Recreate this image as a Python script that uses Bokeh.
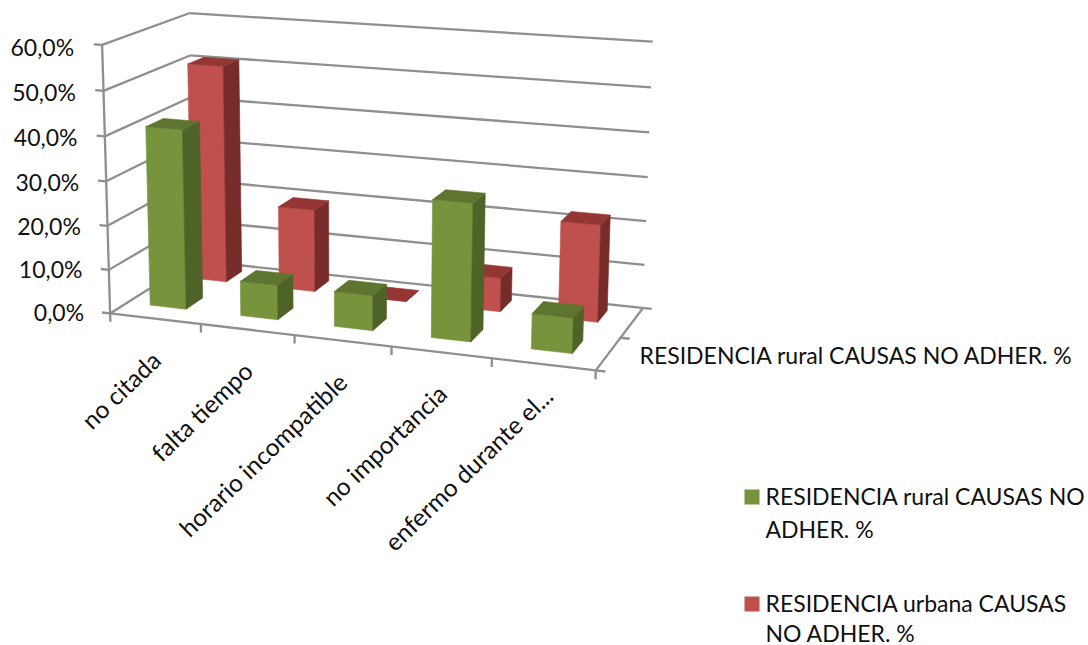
import numpy as np
from bokeh.core.properties import value
from bokeh.embed import file_html
from bokeh.models import Range1d
from bokeh.plotting import figure
from bokeh.resources import INLINE

# Chart content
categories = ["no citada", "falta tiempo", "horario incompatible", "no importancia", "enfermo durante el..."]
rural = [40.6, 7.8, 7.8, 30.1, 7.7]
urbana = [50.5, 19.1, 0.0, 7.7, 21.8]
value_ticks = [0, 10, 20, 30, 40, 50, 60]
value_labels = ["0,0%", "10,0%", "20,0%", "30,0%", "40,0%", "50,0%", "60,0%"]
series_label = "RESIDENCIA rural CAUSAS NO ADHER. %"
legend_lines = [
    ("#77933C", ["RESIDENCIA rural CAUSAS NO", "ADHER. %"]),
    ("#C0504D", ["RESIDENCIA urbana CAUSAS", "NO ADHER. %"]),
]

FONT = "Lato"
AXIS_MAX = 60.0
BAR_LIFT = 0.011  # bars stand slightly above the floor plane
GRID = "#8F8F8F"
TEXT = "#111111"

# Camera: box coordinates (along categories, depth, height; all 0..1) and where they land on the page
camera_box = [
    (0, 0, 0), (0.2, 0, 0), (0.4, 0, 0), (0.6, 0, 0), (0.8, 0, 0), (1, 0, 0),
    (0, 1, 0), (1, 1, 0), (0, 0, 1), (0, 1, 1), (1, 1, 1),
]
camera_page = [
    (110.7, 311), (200.7, 323), (294, 335), (390.5, 347), (490.7, 359), (595.7, 370),
    (192.5, 262), (643, 305), (101, 44), (189.5, 12.3), (652, 42),
]


def solve_camera(box, page):
    rows, rhs = [], []
    for (a, b, c), (x, y) in zip(box, page):
        rows.append([a, b, c, 1, 0, 0, 0, 0, -x * a, -x * b, -x * c])
        rows.append([0, 0, 0, 0, a, b, c, 1, -y * a, -y * b, -y * c])
        rhs += [x, y]
    m = np.linalg.lstsq(np.array(rows, float), np.array(rhs, float), rcond=None)[0]
    return np.append(m, 1.0).reshape(3, 4)


CAM = solve_camera(camera_box, camera_page)


def project(u, v, w):
    q = CAM @ np.array([u, v, w, 1.0])
    return q[0] / q[2], q[1] / q[2]


p = figure(width=1088, height=645, output_backend="svg", toolbar_location=None,
           x_range=Range1d(0, 1088), y_range=Range1d(645, 0), min_border=0)
p.axis.visible = False
p.grid.visible = False
p.outline_line_color = None
p.background_fill_color = "white"
p.border_fill_color = "white"


def line(a, b):
    xa, ya = project(*a)
    xb, yb = project(*b)
    p.line([xa, xb], [ya, yb], line_color=GRID, line_width=2.3)


# Walls: one gridline per value tick across the left and back sides
for t in value_ticks:
    w = t / AXIS_MAX
    line((-0.018, 0, w), (0, 0, w))
    line((0, 0, w), (0, 1, w))
    line((0, 1, w), (1.018 if t == 0 else 1.0, 1, w))

# Axis lines and their tick marks
line((0, 0, 0), (0, 0, 1))
line((0, 0, 0), (1, 0, 0))
line((1, 0, 0), (1, 1, 0))
for i in range(6):
    line((i / 5, 0, 0), (i / 5, 0, -0.032))
line((1, 0.5, 0), (1.018, 0.5, 0))
line((1, 0, 0), (1.018, 0, 0))


def bar(i, row, val, front, top, side):
    u0, u1 = (i + 0.3) / 5, (i + 0.7) / 5
    v0, v1 = (row + 0.3) / 2, (row + 0.7) / 2
    b = BAR_LIFT
    w = val / AXIS_MAX + BAR_LIFT
    faces = [
        ([(u0, v0, b), (u1, v0, b), (u1, v0, w), (u0, v0, w)], front),
        ([(u1, v0, b), (u1, v1, b), (u1, v1, w), (u1, v0, w)], side),
        ([(u0, v0, w), (u1, v0, w), (u1, v1, w), (u0, v1, w)], top),
    ]
    for pts, colour in faces:
        xy = [project(*c) for c in pts]
        p.patch([c[0] for c in xy], [c[1] for c in xy], fill_color=colour, line_color=colour, line_width=0.6)


# Far row first, so the near row overlaps it
for i, val in enumerate(urbana):
    bar(i, 1, val, "#C0504D", "#943634", "#772C2A")
for i, val in enumerate(rural):
    bar(i, 0, val, "#77933C", "#5E752F", "#4F6228")

# Value labels
for t, lab in zip(value_ticks, value_labels):
    x, y = project(0, 0, t / AXIS_MAX)
    p.text([x - 26 - 2 * t / AXIS_MAX], [y - 1.5 + 3.5 * t / AXIS_MAX], text=[lab], text_font=value(FONT),
           text_font_size="23px", text_color=TEXT, text_align="right", text_baseline="middle")

# Category labels, slanted up to the right; the truncated last one sits a little further along its slant
label_nudge = [(0, 2), (0, 2), (-1, 2), (0, 2), (4, -8)]
for i, lab in enumerate(categories):
    x, y = project((i + 0.5) / 5, 0, 0)
    dx, dy = label_nudge[i]
    p.text([x + 1 + dx], [y + 35 + dy], text=[lab], angle=np.radians(44), text_font=value(FONT),
           text_font_size="24.5px", text_color=TEXT, text_align="right", text_baseline="middle")

# Depth axis label
p.text([639], [354], text=[series_label], text_font=value(FONT), text_font_size="23px",
       text_color=TEXT, text_align="left", text_baseline="middle")

# Legend
for (colour, lines), top, step in zip(legend_lines, [489, 596], [33, 30]):
    p.quad(left=[744], right=[759], top=[top], bottom=[top + 15], fill_color=colour, line_color=None)
    for k, txt in enumerate(lines):
        p.text([765], [top + 6 + step * k], text=[txt], text_font=value(FONT), text_font_size="23px",
               text_color=TEXT, text_align="left", text_baseline="middle")

open("out.html", "w").write(file_html(p, INLINE))
